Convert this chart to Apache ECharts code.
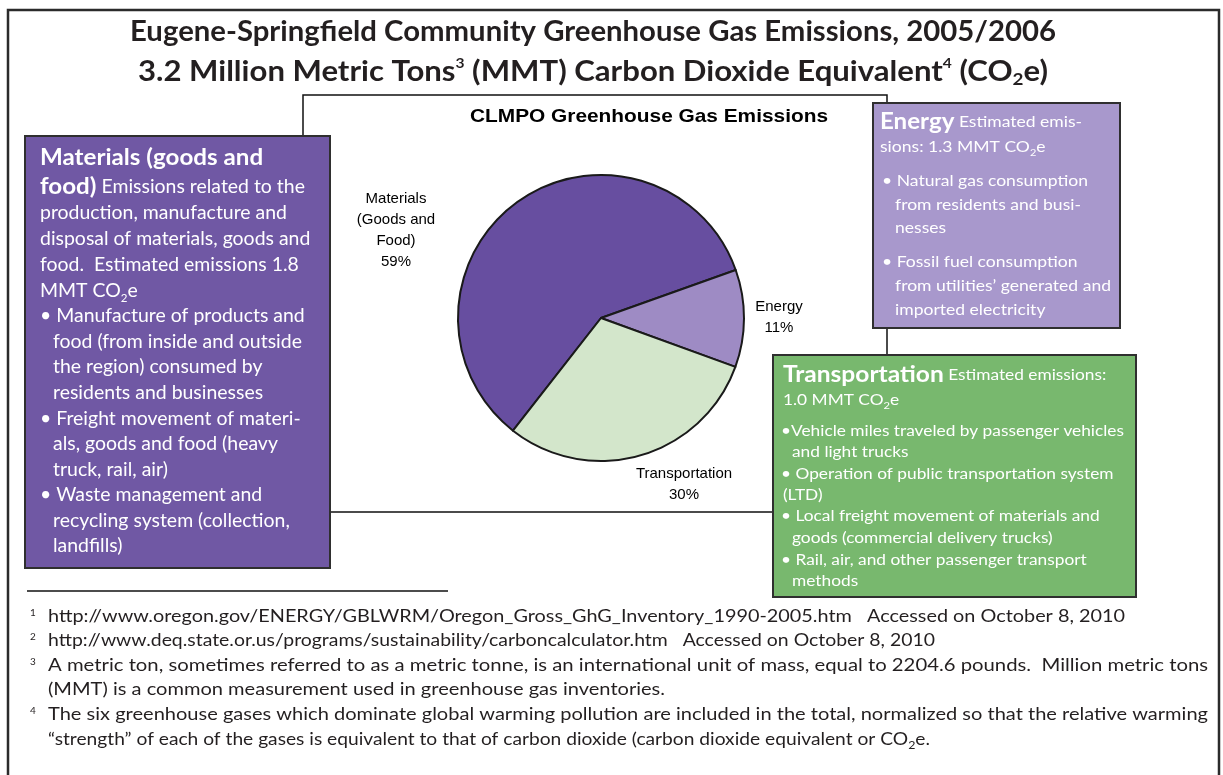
<!DOCTYPE html>
<html><head><meta charset="utf-8">
<script src="https://cdn.jsdelivr.net/npm/echarts@6/dist/echarts.min.js"></script>
<style>html,body{margin:0;padding:0;background:#fff}#c{width:1223px;height:775px}</style>
</head><body><div id="c"></div>
<script>
// ---------- DATA ----------
const categories = ['Materials (Goods and Food)', 'Energy', 'Transportation'];
const shares = [59, 11, 30];                       // percent of total
const sliceLabels = ['Materials\n(Goods and\nFood)', 'Energy', 'Transportation'];
const emissionsMMT = ['1.8', '1.3', '1.0'];         // MMT CO2e per category
const totalMMT = '3.2';
const chartTitle = 'CLMPO Greenhouse Gas Emissions';
const mainTitle = 'Eugene-Springfield Community Greenhouse Gas Emissions, 2005/2006';
const footnotes = [
  'http://www.oregon.gov/ENERGY/GBLWRM/Oregon_Gross_GhG_Inventory_1990-2005.htm   Accessed on October 8, 2010',
  'http://www.deq.state.or.us/programs/sustainability/carboncalculator.htm   Accessed on October 8, 2010',
  'A metric ton, sometimes referred to as a metric tonne, is an international unit of mass, equal to 2204.6 pounds.  Million metric tons',
  '(MMT) is a common measurement used in greenhouse gas inventories.',
  'The six greenhouse gases which dominate global warming pollution are included in the total, normalized so that the relative warming',
  '\u201Cstrength\u201D of each of the gases is equivalent to that of carbon dioxide (carbon dioxide equivalent or CO'
];
const footnoteNums = ['1', '2', '3', '', '4', ''];

// ---------- STYLE / LAYOUT ----------
const FONT = 'Lato, "Open Sans", "DejaVu Sans", sans-serif';
const ARIAL = '"Liberation Sans", Arial, sans-serif';
const sliceColors = ['#674ea0', '#9e8bc4', '#d3e6cb'];
const ctx = document.createElement('canvas').getContext('2d');

function mkStyles(size, headSize, lh, color) {
  return {
    b:   { fontFamily: FONT, fontSize: headSize, fontWeight: 'bold', lineHeight: lh, fill: color, color: color },
    n:   { fontFamily: FONT, fontSize: size, fontWeight: 'normal', lineHeight: lh, fill: color, color: color },
    nb:  { fontFamily: FONT, fontSize: size, fontWeight: 'bold', lineHeight: lh, fill: color, color: color },
    sub: { fontFamily: FONT, fontSize: Math.round(size * 0.62), fontWeight: 'normal', lineHeight: Math.round(size * 0.62), verticalAlign: 'bottom', fill: color, color: color },
    subb:{ fontFamily: FONT, fontSize: Math.round(size * 0.6), fontWeight: 'bold', lineHeight: Math.round(size * 0.6), verticalAlign: 'bottom', fill: color, color: color },
    supb:{ fontFamily: FONT, fontSize: Math.round(size * 0.5), fontWeight: 'bold', lineHeight: Math.round(size * 0.5), verticalAlign: 'top', fill: color, color: color },
    sup: { fontFamily: FONT, fontSize: Math.round(size * 0.6), fontWeight: 'normal', lineHeight: Math.round(size * 0.6), verticalAlign: 'top', fill: color, color: color }
  };
}
function measure(segs, st) {
  let w = 0;
  for (const [k, t] of segs) {
    const s = st[k];
    ctx.font = s.fontWeight + ' ' + s.fontSize + 'px ' + s.fontFamily;
    w += ctx.measureText(t).width;
  }
  return w;
}
function richStr(segs) { return segs.map(([k, t]) => '{' + k + '|' + t + '}').join(''); }
function textEl(x, y, segs, st, scaleX, z) {
  return { type: 'text', x: x, y: y, scaleX: scaleX, z: z || 5, silent: true,
    style: { text: richStr(segs), rich: st, align: 'left', verticalAlign: 'middle', fill: st.n.fill } };
}
function block(lines, st, refIdx, refWidth) {
  const sc = refWidth / measure(lines[refIdx].s, st);
  return lines.map(l => textEl(l.x, l.y, l.s, st, sc));
}
const seg = t => [['n', t]];

// Materials box
const stM = mkStyles(18.5, 23, 26, '#ffffff');
const linesM = [
  { x: 40, y: 158, s: [['b', 'Materials (goods and']] },
  { x: 40, y: 187, s: [['b', 'food)'], ['n', ' Emissions related to the']] },
  { x: 40, y: 213, s: seg('production, manufacture and') },
  { x: 40, y: 239, s: seg('disposal of materials, goods and') },
  { x: 40, y: 265, s: seg('food.  Estimated emissions ' + emissionsMMT[0]) },
  { x: 40, y: 291, s: [['n', 'MMT CO'], ['sub', '2'], ['n', 'e']] },
  { x: 40, y: 316, s: seg('\u2022 Manufacture of products and') },
  { x: 53, y: 342, s: seg('food (from inside and outside') },
  { x: 53, y: 367, s: seg('the region) consumed by') },
  { x: 53, y: 393, s: seg('residents and businesses') },
  { x: 40, y: 419, s: seg('\u2022 Freight movement of materi-') },
  { x: 53, y: 444, s: seg('als, goods and food (heavy') },
  { x: 53, y: 470, s: seg('truck, rail, air)') },
  { x: 40, y: 495, s: seg('\u2022 Waste management and') },
  { x: 53, y: 521, s: seg('recycling system (collection,') },
  { x: 53, y: 546, s: seg('landfills)') }
];
// Energy box
const stE = mkStyles(16, 22, 22, '#ffffff');
const linesE = [
  { x: 880, y: 122, s: [['b', 'Energy'], ['n', ' Estimated emis-']] },
  { x: 880, y: 147, s: [['n', 'sions: ' + emissionsMMT[1] + ' MMT CO'], ['sub', '2'], ['n', 'e']] },
  { x: 882, y: 181, s: seg('\u2022 Natural gas consumption') },
  { x: 895, y: 205, s: seg('from residents and busi-') },
  { x: 895, y: 228, s: seg('nesses') },
  { x: 882, y: 262, s: seg('\u2022 Fossil fuel consumption') },
  { x: 895, y: 286, s: seg('from utilities\u2019 generated and') },
  { x: 895, y: 310, s: seg('imported electricity') }
];
// Transportation box
const stT = mkStyles(15.5, 22, 21, '#ffffff');
const linesT = [
  { x: 783, y: 375, s: [['b', 'Transportation'], ['n', ' Estimated emissions:']] },
  { x: 783, y: 400, s: [['n', emissionsMMT[2] + ' MMT CO'], ['sub', '2'], ['n', 'e']] },
  { x: 781, y: 431, s: seg('\u2022Vehicle miles traveled by passenger vehicles') },
  { x: 792, y: 452, s: seg('and light trucks') },
  { x: 781, y: 474, s: seg('\u2022 Operation of public transportation system') },
  { x: 783, y: 495, s: seg('(LTD)') },
  { x: 781, y: 516, s: seg('\u2022 Local freight movement of materials and') },
  { x: 792, y: 538, s: seg('goods (commercial delivery trucks)') },
  { x: 781, y: 560, s: seg('\u2022 Rail, air, and other passenger transport') },
  { x: 792, y: 581, s: seg('methods') }
];

// Titles
const stTitle = mkStyles(28, 28, 32, '#231f20');
const titleLine1 = [['nb', mainTitle]];
const titleLine2 = [['nb', totalMMT + ' Million Metric Tons'], ['supb', '3'], ['nb', ' (MMT) Carbon Dioxide Equivalent'], ['supb', '4'], ['nb', ' (CO'], ['subb', '2'], ['nb', 'e)']];

// Footnotes
const stF = mkStyles(17, 17, 22, '#231f20');
const fnY = [617, 641, 666, 690, 715, 740];
const fnRight = [1125, 935, 1208, 665, 1208, 930];

const graphics = [];
// outer border
graphics.push({ type: 'polyline', z: 1, silent: true, shape: { points: [[8, 776], [8, 10], [1219, 10], [1219, 776]] }, style: { stroke: '#2b2b2b', lineWidth: 2.5, fill: null } });
// chart frame
graphics.push({ type: 'rect', z: 0, silent: true, shape: { x: 303, y: 95, width: 584, height: 417 }, style: { fill: '#ffffff', stroke: '#111', lineWidth: 1.5 } });
// boxes
const boxStroke = '#2f2f2f';
graphics.push({ type: 'rect', z: 3, silent: true, shape: { x: 25, y: 136, width: 305, height: 432 }, style: { fill: '#7058a4', stroke: boxStroke, lineWidth: 2 } });
graphics.push({ type: 'rect', z: 3, silent: true, shape: { x: 873, y: 103, width: 247, height: 225 }, style: { fill: '#a898cc', stroke: boxStroke, lineWidth: 2 } });
graphics.push({ type: 'rect', z: 3, silent: true, shape: { x: 773, y: 355, width: 363, height: 242 }, style: { fill: '#78b86e', stroke: boxStroke, lineWidth: 2 } });
graphics.push(...block(linesM, stM, 2, 247));
graphics.push(...block(linesE, stE, 6, 216));
graphics.push(...block(linesT, stT, 2, 343));
// titles
graphics.push(textEl(130, 32, titleLine1, stTitle, 926 / measure(titleLine1, stTitle)));
graphics.push(textEl(138, 72, titleLine2, stTitle, 910 / measure(titleLine2, stTitle)));
// chart title
(function () {
  ctx.font = 'bold 19px ' + ARIAL;
  const sc = 358 / ctx.measureText(chartTitle).width;
  graphics.push({ type: 'text', x: 470, y: 117, scaleX: sc, z: 5, silent: true, style: { text: chartTitle, font: 'bold 19px ' + ARIAL, fill: '#000', align: 'left', verticalAlign: 'middle' } });
})();
// footnote rule
graphics.push({ type: 'line', z: 2, silent: true, shape: { x1: 27, y1: 591, x2: 448, y2: 591 }, style: { stroke: '#111', lineWidth: 1.5 } });
// footnotes
footnotes.forEach((t, i) => {
  const segs = i === 5 ? [['n', t], ['sub', '2'], ['n', 'e.']] : [['n', t]];
  const sc = (fnRight[i] - 48) / measure(segs, stF);
  graphics.push(textEl(48, fnY[i], segs, stF, sc));
  if (footnoteNums[i]) {
    graphics.push({ type: 'text', x: 30, y: fnY[i] - 4, z: 5, silent: true, style: { text: footnoteNums[i], font: '10px ' + FONT, fill: '#231f20', align: 'left', verticalAlign: 'middle' } });
  }
});

// pie label anchor positions (layout)
const labelPos = [[396, 230], [779, 317], [684, 484]];

const chart = echarts.init(document.getElementById('c'), null, { renderer: 'canvas' });
chart.setOption({
  animation: false,
  backgroundColor: '#ffffff',
  graphic: { elements: graphics },
  series: [{
    type: 'pie',
    center: [601, 318],
    radius: 143,
    startAngle: 232,
    clockwise: true,
    z: 4,
    data: categories.map((c, i) => ({ name: c, value: shares[i], itemStyle: { color: sliceColors[i] } })),
    itemStyle: { borderColor: '#1a1a1a', borderWidth: 2 },
    emphasis: { disabled: true },
    label: {
      show: true,
      position: 'outside',
      formatter: p => sliceLabels[p.dataIndex] + '\n' + p.value + '%',
      fontFamily: ARIAL, fontSize: 15, lineHeight: 21, color: '#000', align: 'center'
    },
    labelLine: { show: false },
    labelLayout: p => ({ x: labelPos[p.dataIndex][0], y: labelPos[p.dataIndex][1], align: 'center', verticalAlign: 'middle' })
  }]
});
</script>
</body></html>
